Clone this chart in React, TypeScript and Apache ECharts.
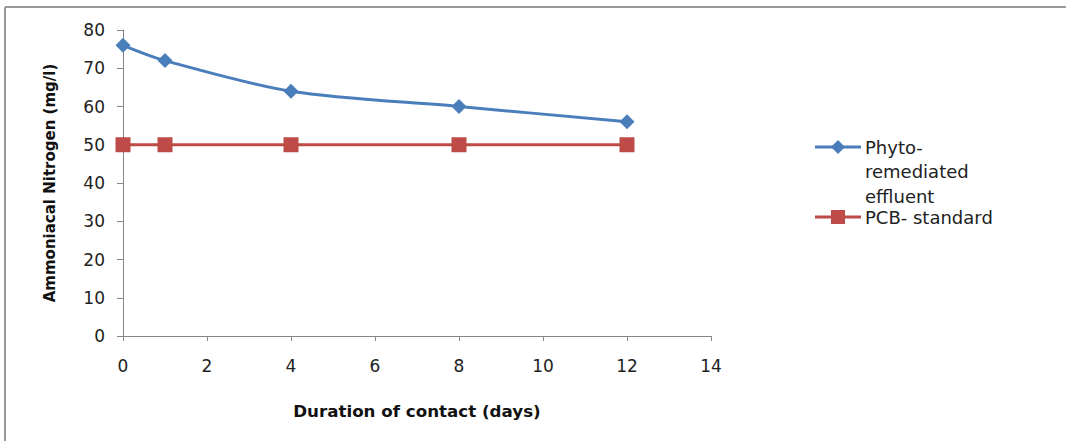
import React, { useEffect, useRef } from "react";
import * as echarts from "echarts";

// Contact duration (days) and ammoniacal nitrogen (mg/l)
const days = [0, 1, 4, 8, 12];
const phytoValues = [76, 72, 64, 60, 56];
const pcbStandard = [50, 50, 50, 50, 50];
const seriesNames = ["Phyto-remediated effluent", "PCB- standard"];
const legendLines = [["Phyto-", "remediated", "effluent"], ["PCB- standard"]];

const BLUE = "#4A7EBB";
const RED = "#BE4B48";
const FONT = "'DejaVu Sans', 'Noto Sans', sans-serif";

export default function App() {
  const ref = useRef<HTMLDivElement>(null);

  useEffect(() => {
    document.body.style.margin = "0";
    const chart = echarts.init(ref.current!, null, { renderer: "svg" });

    const legendX = 815;
    const legendRows = [147, 217];
    const graphic: any[] = [
      { type: "line", shape: { x1: 5, y1: 7, x2: 1066, y2: 7 }, style: { stroke: "#9a9a9a", lineWidth: 2 } },
      { type: "line", shape: { x1: 5, y1: 7, x2: 5, y2: 441 }, style: { stroke: "#9a9a9a", lineWidth: 2 } },
    ];
    legendRows.forEach((y, i) => {
      const color = i === 0 ? BLUE : RED;
      graphic.push({
        type: "line",
        shape: { x1: legendX, y1: y, x2: legendX + 46, y2: y },
        style: { stroke: color, lineWidth: 3 },
      });
      if (i === 0) {
        graphic.push({
          type: "polygon",
          shape: { points: [[838, y - 7], [845, y], [838, y + 7], [831, y]] },
          style: { fill: BLUE },
        });
      } else {
        graphic.push({
          type: "rect",
          shape: { x: 831, y: y - 7, width: 14, height: 14 },
          style: { fill: RED },
        });
      }
      legendLines[i].forEach((t, k) => {
        graphic.push({
          type: "text",
          x: 865,
          y: y + k * 24.5,
          style: {
            text: t,
            font: `18px ${FONT}`,
            fill: "#222",
            verticalAlign: "middle",
            align: "left",
          },
        });
      });
    });

    chart.setOption({
      animation: false,
      backgroundColor: "#fff",
      grid: { left: 123, top: 30, right: 355, bottom: 105, containLabel: false },
      xAxis: {
        type: "value",
        min: 0,
        max: 14,
        interval: 2,
        name: "Duration of contact (days)",
        nameLocation: "middle",
        nameGap: 66,
        nameTextStyle: { fontFamily: FONT, fontSize: 16.7, fontWeight: "bold", color: "#111" },
        axisLine: { lineStyle: { color: "#868686", width: 1 } },
        axisTick: { show: true, length: 5, lineStyle: { color: "#868686" } },
        axisLabel: { fontFamily: FONT, fontSize: 17, color: "#222", margin: 21 },
        splitLine: { show: false },
      },
      yAxis: {
        type: "value",
        min: 0,
        max: 80,
        interval: 10,
        name: "Ammoniacal Nitrogen (mg/l)",
        nameLocation: "middle",
        nameGap: 66,
        nameTextStyle: { fontFamily: FONT, fontSize: 15, fontWeight: "bold", color: "#111" },
        axisLine: { show: true, lineStyle: { color: "#868686", width: 1 } },
        axisTick: { show: true, length: 6, lineStyle: { color: "#868686" } },
        axisLabel: { fontFamily: FONT, fontSize: 17, color: "#222", margin: 18 },
        splitLine: { show: false },
      },
      series: [
        {
          name: seriesNames[0],
          type: "line",
          data: days.map((d, i) => [d, phytoValues[i]]),
          smooth: 0.3,
          symbol: "diamond",
          symbolSize: 15,
          lineStyle: { color: BLUE, width: 3 },
          itemStyle: { color: BLUE },
        },
        {
          name: seriesNames[1],
          type: "line",
          data: days.map((d, i) => [d, pcbStandard[i]]),
          symbol: "rect",
          symbolSize: 15,
          lineStyle: { color: RED, width: 3 },
          itemStyle: { color: RED },
        },
      ],
      graphic,
    });

    return () => chart.dispose();
  }, []);

  return <div ref={ref} style={{ width: 1066, height: 441 }} />;
}
